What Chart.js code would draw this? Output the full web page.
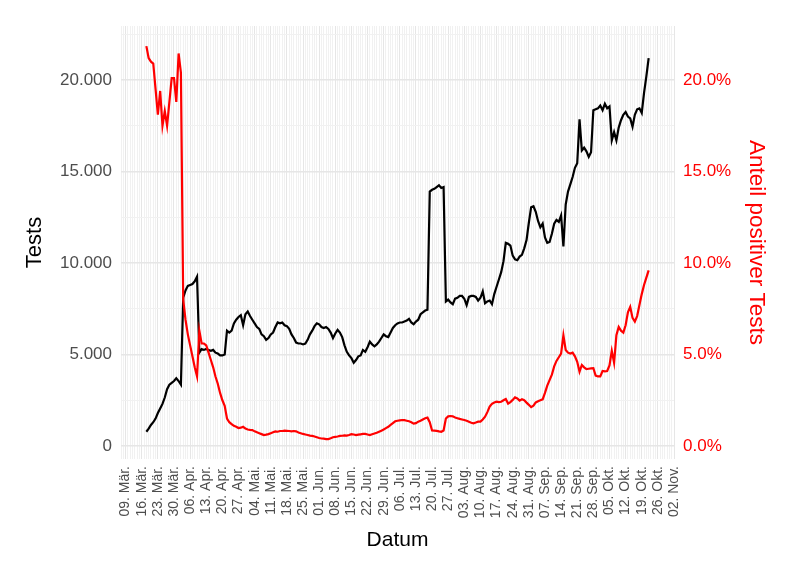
<!DOCTYPE html>
<html lang="de">
<head>
<meta charset="utf-8">
<title>Tests und Anteil positiver Tests</title>
<script src="https://cdn.jsdelivr.net/npm/chart.js@4/dist/chart.umd.min.js"></script>
<style>
  html, body { margin: 0; padding: 0; background: #fff; }
  #chart { display: block; }
</style>
</head>
<body>
<canvas id="chart" width="800" height="567"></canvas>
<script>
'use strict';

// Days are counted from 09. Mär. (day 0); the series start on day 9 (18. Mär.)
const FIRST_DAY = 9;

const WEEK_LABELS = [
  '09. Mär.', '16. Mär.', '23. Mär.', '30. Mär.', '06. Apr.', '13. Apr.', '20. Apr.',
  '27. Apr.', '04. Mai.', '11. Mai.', '18. Mai.', '25. Mai.', '01. Jun.', '08. Jun.',
  '15. Jun.', '22. Jun.', '29. Jun.', '06. Jul.', '13. Jul.', '20. Jul.', '27. Jul.',
  '03. Aug.', '10. Aug.', '17. Aug.', '24. Aug.', '31. Aug.', '07. Sep.', '14. Sep.',
  '21. Sep.', '28. Sep.', '05. Okt.', '12. Okt.', '19. Okt.', '26. Okt.', '02. Nov.',
];

const TESTS = [
  780, 950, 1150, 1300, 1500, 1800, 2050, 2300, 2650, 3100,
  3350, 3450, 3550, 3700, 3550, 3350, 8100, 8500, 8750, 8800,
  8850, 9000, 9250, 5100, 5300, 5250, 5300, 5250, 5200, 5250,
  5100, 5050, 4950, 4950, 5000, 6300, 6200, 6300, 6700, 6900,
  7050, 7150, 6600, 7200, 7350, 7100, 6900, 6700, 6500, 6400,
  6100, 6000, 5800, 5900, 6100, 6200, 6500, 6750, 6700, 6750,
  6600, 6550, 6400, 6100, 5900, 5650, 5600, 5600, 5550, 5600,
  5800, 6100, 6300, 6550, 6700, 6650, 6500, 6450, 6500, 6400,
  6200, 5900, 6150, 6350, 6200, 5950, 5500, 5150, 4950, 4800,
  4550, 4700, 4900, 4950, 5250, 5150, 5400, 5700, 5550, 5450,
  5550, 5700, 5900, 6100, 6000, 5950, 6200, 6450, 6600, 6700,
  6750, 6750, 6800, 6850, 6950, 6750, 6650, 6800, 6900, 7200,
  7300, 7400, 7450, 13900, 14000, 14050, 14150, 14250, 14100, 14150,
  7900, 8000, 7850, 7750, 8050, 8100, 8200, 8200, 8050, 7700,
  8150, 8200, 8200, 8150, 7950, 8100, 8450, 7800, 7900, 7950,
  7750, 8300, 8700, 9100, 9500, 10100, 11100, 11050, 10950, 10400,
  10200, 10150, 10350, 10450, 10800, 11250, 12200, 13050, 13100, 12800,
  12300, 11950, 12150, 11400, 11100, 11150, 11600, 12150, 12350, 12250,
  12600, 10900, 13200, 13900, 14300, 14700, 15200, 15450, 17850, 16150,
  16300, 16100, 15800, 16050, 18350, 18400, 18450, 18600, 18350, 18700,
  18450, 18550, 16700, 17150, 16700, 17400, 17800, 18100, 18250, 18000,
  17900, 17450, 18100, 18400, 18450, 18200, 19300, 20200, 21200,
];

// Anteil positiver Tests in %
const POSITIVE_SHARE = [
  21.85, 21.2, 21.0, 20.9, 19.5, 18.1, 19.4, 17.5, 18.3, 17.5,
  18.8, 20.1, 20.1, 18.8, 21.45, 20.4, 8.0, 6.9, 6.1, 5.5,
  4.9, 4.3, 3.8, 6.3, 5.6, 5.6, 5.5, 5.1, 4.7, 4.3,
  3.8, 3.4, 2.9, 2.5, 2.2, 1.5, 1.3, 1.2, 1.1, 1.05,
  0.98, 1.0, 1.05, 0.95, 0.9, 0.88, 0.87, 0.8, 0.75, 0.7,
  0.65, 0.6, 0.62, 0.65, 0.7, 0.75, 0.8, 0.78, 0.82, 0.82,
  0.84, 0.83, 0.82, 0.8, 0.82, 0.8, 0.74, 0.7, 0.66, 0.63,
  0.6, 0.57, 0.55, 0.52, 0.48, 0.44, 0.41, 0.4, 0.38, 0.38,
  0.42, 0.48, 0.5, 0.52, 0.55, 0.56, 0.58, 0.57, 0.6, 0.65,
  0.63, 0.6, 0.62, 0.64, 0.66, 0.66, 0.63, 0.6, 0.64, 0.68,
  0.72, 0.78, 0.84, 0.9, 0.98, 1.05, 1.15, 1.25, 1.35, 1.38,
  1.4, 1.42, 1.41, 1.38, 1.35, 1.3, 1.22, 1.25, 1.33, 1.38,
  1.45, 1.52, 1.55, 1.3, 0.85, 0.84, 0.83, 0.8, 0.78, 0.85,
  1.5, 1.62, 1.64, 1.62, 1.56, 1.52, 1.48, 1.45, 1.42, 1.38,
  1.33, 1.27, 1.24, 1.28, 1.33, 1.33, 1.45, 1.6, 1.85, 2.15,
  2.3, 2.38, 2.42, 2.4, 2.42, 2.5, 2.57, 2.32, 2.4, 2.52,
  2.66, 2.6, 2.48, 2.55, 2.5, 2.37, 2.25, 2.12, 2.2, 2.38,
  2.45, 2.5, 2.55, 2.9, 3.3, 3.6, 3.9, 4.35, 4.65, 4.85,
  5.05, 6.05, 5.25, 5.1, 5.05, 5.1, 4.9, 4.6, 4.06, 4.43,
  4.3, 4.2, 4.22, 4.24, 4.25, 3.85, 3.8, 3.8, 4.1, 4.08,
  4.1, 4.4, 5.2, 4.55, 6.05, 6.5, 6.3, 6.2, 6.6, 7.3,
  7.6, 7.0, 6.8, 7.1, 7.7, 8.3, 8.8, 9.2, 9.6,
];

const TEST_TICKS = [0, 5000, 10000, 15000, 20000];
const SHARE_TICKS = [0, 5, 10, 15, 20];

// ─── Helpers ──────────────────────────────────────────────────────────────────

const FONT = "'Liberation Sans', Arial, Helvetica, sans-serif";
const GRID_MAJOR = '#e6e6e6';
const GRID_MINOR = '#f1f1f1';

const toPoints = (values) => values.map((v, i) => ({ x: FIRST_DAY + i, y: v }));

// one grid line per day, labelled lines every 7 days
const dayTicks = [];
for (let d = -2; d <= WEEK_LABELS.length * 7 - 7; d++) dayTicks.push({ value: d });

// minor horizontal lines halfway between the labelled ones
const testGrid = [];
for (let v = 0; v <= 22500; v += 2500) testGrid.push({ value: v });

const formatTests = (v) => v.toLocaleString('de-DE');

// ─── Chart ────────────────────────────────────────────────────────────────────

new Chart(document.getElementById('chart'), {
  type: 'line',
  data: {
    datasets: [
      {
        label: 'Anteil positiver Tests',
        data: toPoints(POSITIVE_SHARE),
        yAxisID: 'y2',
        borderColor: '#ff0000',
        borderWidth: 2.2,
        pointRadius: 0,
        tension: 0,
      },
      {
        label: 'Tests',
        data: toPoints(TESTS),
        yAxisID: 'y',
        borderColor: '#000000',
        borderWidth: 2.2,
        pointRadius: 0,
        tension: 0,
      },
    ],
  },
  options: {
    responsive: false,
    animation: false,
    devicePixelRatio: 1,
    layout: { padding: { top: 26, left: 0, right: 0, bottom: 0 } },
    plugins: {
      legend: { display: false },
      tooltip: { enabled: false },
    },
    scales: {
      x: {
        type: 'linear',
        min: -2,
        max: 238,
        afterBuildTicks: (s) => { s.ticks = dayTicks.slice(); },
        afterFit: (s) => { s.height = 108; },
        border: { display: false },
        grid: {
          drawTicks: false,
          color: (ctx) => (ctx.tick && ctx.tick.value % 7 === 0 ? GRID_MAJOR : GRID_MINOR),
          lineWidth: 1,
        },
        ticks: {
          autoSkip: false,
          minRotation: 90,
          maxRotation: 90,
          padding: 7,
          color: '#4d4d4d',
          font: { family: FONT, size: 14 },
          callback: (v) => (v % 7 === 0 && v >= 0 ? WEEK_LABELS[v / 7] : ''),
        },
        title: {
          display: true,
          text: 'Datum',
          color: '#000',
          font: { family: FONT, size: 21 },
          padding: { top: 0, bottom: 14 },
        },
      },
      y: {
        position: 'left',
        min: -710,
        max: 22950,
        afterBuildTicks: (s) => { s.ticks = testGrid.slice(); },
        afterFit: (s) => { s.width = 121; },
        border: { display: false },
        grid: {
          drawTicks: false,
          color: (ctx) => (ctx.tick && ctx.tick.value % 5000 === 0 ? GRID_MAJOR : GRID_MINOR),
          lineWidth: (ctx) => (ctx.tick && ctx.tick.value % 5000 === 0 ? 1.6 : 1),
        },
        ticks: {
          padding: 9,
          color: '#4d4d4d',
          font: { family: FONT, size: 17 },
          callback: (v) => (TEST_TICKS.includes(v) ? formatTests(v) : ''),
        },
        title: {
          display: true,
          text: 'Tests',
          color: '#000',
          font: { family: FONT, size: 22 },
          padding: { top: 22, bottom: 0 },
        },
      },
      y2: {
        position: 'right',
        min: -0.71,
        max: 22.95,
        afterBuildTicks: (s) => { s.ticks = SHARE_TICKS.map((v) => ({ value: v })); },
        afterFit: (s) => { s.width = 126; },
        border: { display: false },
        grid: { display: false, drawTicks: false },
        ticks: {
          padding: 9,
          color: '#ff0000',
          font: { family: FONT, size: 17 },
          callback: (v) => `${v.toFixed(1)}%`,
        },
        title: {
          display: true,
          text: 'Anteil positiver Tests',
          color: '#ff0000',
          font: { family: FONT, size: 22.5 },
          padding: { top: 30, bottom: 0 },
        },
      },
    },
  },
});
</script>
</body>
</html>
